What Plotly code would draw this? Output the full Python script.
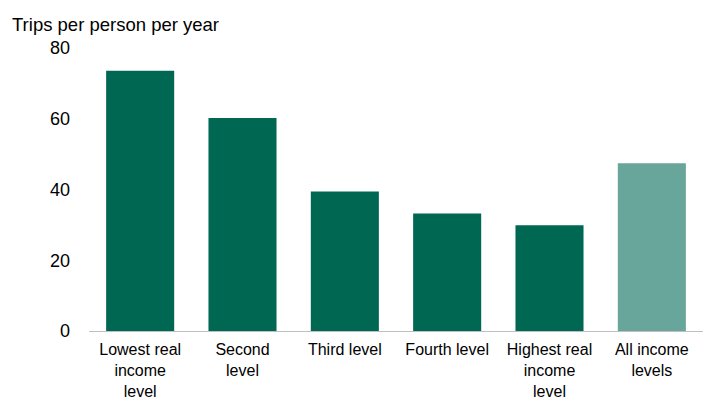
import plotly.graph_objects as go

# Trips per person per year by household real income quintile
categories = [
    "Lowest real<br>income<br>level",
    "Second<br>level",
    "Third level",
    "Fourth level",
    "Highest real<br>income<br>level",
    "All income<br>levels",
]
trips = [73.6, 60.2, 39.4, 33.2, 29.9, 47.4]
bar_colors = ["#006752", "#006752", "#006752", "#006752", "#006752", "#68A59A"]
y_ticks = [0, 20, 40, 60, 80]

W, H = 713, 401
ML, MR, MT, MB = 89, 10, 48, 70

fig = go.Figure(
    go.Bar(
        x=categories,
        y=trips,
        marker=dict(color=bar_colors, line=dict(width=0)),
        hoverinfo="x+y",
    )
)

fig.update_layout(
    width=W,
    height=H,
    margin=dict(l=ML, r=MR, t=MT, b=MB, autoexpand=False),
    plot_bgcolor="white",
    paper_bgcolor="white",
    bargap=0.335,
    showlegend=False,
    font=dict(family="Liberation Sans, Arial, sans-serif", color="#000000"),
    title=dict(
        text="Trips per person per year",
        x=12 / W,
        xanchor="left",
        xref="container",
        y=1 - 25 / H,
        yanchor="middle",
        yref="container",
        font=dict(size=18.5, color="#000000"),
    ),
)

fig.update_xaxes(
    automargin=False,
    showline=True,
    linecolor="#BFBFBF",
    linewidth=1,
    ticks="",
    showgrid=False,
    tickfont=dict(size=16),
    ticklabelstandoff=4,
)

fig.update_yaxes(
    automargin=False,
    range=[0, 80],
    tickvals=y_ticks,
    showline=False,
    showgrid=False,
    zeroline=False,
    ticks="",
    tickfont=dict(size=18),
    ticklabelstandoff=18,
)

fig.write_html("out.html")
